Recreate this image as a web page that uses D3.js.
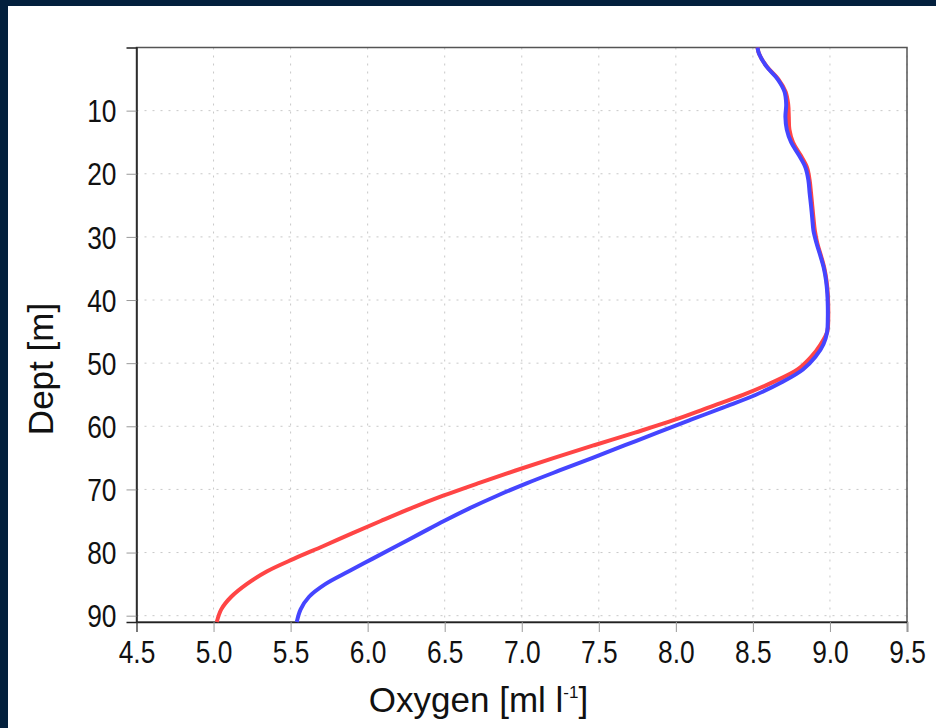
<!DOCTYPE html>
<meta charset="utf-8">
<head>
<script src="https://d3js.org/d3.v7.min.js"></script>
<style>
  body { margin: 0; background: #03203d; }
</style>
</head>
<body>
<div id="my_dataviz"></div>
<script>

// depth in metres
var depth = [0, 1, 3, 5, 7, 9, 11, 13, 15, 17, 19, 21, 23, 25, 27, 29, 31, 33, 35, 37, 39,
             41, 43, 45, 47, 49, 51, 53, 55, 57, 59, 61, 63, 65, 67, 69, 71, 73, 75, 77, 79,
             81, 83, 85, 87, 89, 91];

// oxygen profiles [ml/l]
var oxygenRed = [8.530, 8.540, 8.590, 8.665, 8.712, 8.729, 8.733, 8.737, 8.760, 8.808, 8.851,
                 8.868, 8.877, 8.885, 8.893, 8.902, 8.918, 8.942, 8.964, 8.978, 8.986,
                 8.989, 8.989, 8.983, 8.940, 8.878, 8.790, 8.630, 8.440, 8.215, 7.990,
                 7.735, 7.470, 7.210, 6.960, 6.720, 6.490, 6.280, 6.085, 5.895, 5.710,
                 5.520, 5.345, 5.215, 5.115, 5.050, 5.021];

var oxygenBlue = [8.530, 8.540, 8.588, 8.660, 8.705, 8.716, 8.711, 8.720, 8.748, 8.797, 8.841,
                  8.860, 8.868, 8.877, 8.885, 8.893, 8.913, 8.938, 8.961, 8.975, 8.983,
                  8.986, 8.986, 8.982, 8.958, 8.906, 8.825, 8.690, 8.520, 8.310, 8.094,
                  7.880, 7.670, 7.460, 7.245, 7.035, 6.840, 6.660, 6.495, 6.340, 6.185,
                  6.030, 5.875, 5.725, 5.620, 5.565, 5.540];

var xTicks = [4.5, 5.0, 5.5, 6.0, 6.5, 7.0, 7.5, 8.0, 8.5, 9.0, 9.5];
var yTicks = [10, 20, 30, 40, 50, 60, 70, 80, 90];

var W = 936, H = 728;
var margin = {top: 47.5, right: 29, bottom: 106, left: 136.5},
    width = W - margin.left - margin.right,
    height = H - margin.top - margin.bottom;

var root = d3.select("#my_dataviz")
  .append("svg")
    .attr("width", W)
    .attr("height", H)
    .style("display", "block");

// dark frame + white panel
root.append("rect").attr("width", W).attr("height", H).attr("fill", "#03203d");
root.append("rect").attr("x", 8).attr("y", 6).attr("width", W - 8).attr("height", H - 6).attr("fill", "#fff");

var svg = root.append("g")
    .attr("transform", "translate(" + margin.left + "," + margin.top + ")");

var x = d3.scaleLinear().domain([4.5, 9.5]).range([0, width]);
var y = d3.scaleLinear().domain([0, 91]).range([0, height]);

// dotted grid
svg.append("g")
  .selectAll("line")
  .data(xTicks)
  .enter().append("line")
    .attr("x1", function(d) { return x(d); })
    .attr("x2", function(d) { return x(d); })
    .attr("y1", 0)
    .attr("y2", height)
    .attr("stroke", "#c8c8c8")
    .attr("stroke-width", 1)
    .attr("stroke-dasharray", "2,6");

svg.append("g")
  .selectAll("line")
  .data(yTicks)
  .enter().append("line")
    .attr("x1", 0)
    .attr("x2", width)
    .attr("y1", function(d) { return y(d); })
    .attr("y2", function(d) { return y(d); })
    .attr("stroke", "#c8c8c8")
    .attr("stroke-width", 1)
    .attr("stroke-dasharray", "2,6");

// top / right frame
svg.append("rect")
  .attr("width", width)
  .attr("height", height)
  .attr("fill", "none")
  .attr("stroke", "#555")
  .attr("stroke-width", 1.5);

// axes
var xAxis = svg.append("g")
  .attr("transform", "translate(0," + height + ")")
  .call(d3.axisBottom(x).tickValues(xTicks).tickFormat(d3.format(".1f")).tickSize(10).tickPadding(9));

var yAxis = svg.append("g")
  .call(d3.axisLeft(y).tickValues(yTicks).tickSize(10).tickPadding(10));

// narrow look for tick labels: squeeze horizontally
var squeeze = 0.85;
[xAxis, yAxis].forEach(function(a) {
  a.select(".domain").attr("stroke", "#222").attr("stroke-width", 1.5);
  a.selectAll(".tick line").attr("stroke", "#999");
  a.selectAll(".tick text")
    .style("font-family", "'Liberation Sans', Arial, sans-serif")
    .style("font-size", "31px")
    .attr("fill", "#111");
});
xAxis.selectAll(".tick text").attr("transform", "scale(" + squeeze + ",1)");
yAxis.selectAll(".tick text")
  .attr("x", -20 / squeeze)
  .attr("dy", "0.36em")
  .attr("transform", "scale(" + squeeze + ",1)");

// profiles
var line = d3.line()
  .curve(d3.curveCatmullRom)
  .x(function(d) { return x(d[0]); })
  .y(function(d) { return y(d[1]); });

svg.append("path")
  .datum(depth.map(function(d, i) { return [oxygenRed[i], d]; }))
  .attr("fill", "none")
  .attr("stroke", "#ff4545")
  .attr("stroke-width", 4)
  .attr("d", line);

svg.append("path")
  .datum(depth.map(function(d, i) { return [oxygenBlue[i], d]; }))
  .attr("fill", "none")
  .attr("stroke", "#4545ff")
  .attr("stroke-width", 4)
  .attr("d", line);

// X label
var xl = svg.append("text")
  .attr("x", 342)
  .attr("y", height + 90)
  .attr("text-anchor", "middle")
  .style("font-family", "'Liberation Sans', Arial, sans-serif")
  .style("font-size", "35px")
  .attr("fill", "#111");
xl.append("tspan").text("Oxygen [ml l");
xl.append("tspan").attr("dy", -14).style("font-size", "17px").text("-1");
xl.append("tspan").attr("dy", 14).text("]");

// Y label
svg.append("text")
  .attr("transform", "translate(-84,321.5)rotate(-90)")
  .attr("text-anchor", "middle")
  .style("font-family", "'Liberation Sans', Arial, sans-serif")
  .style("font-size", "35px")
  .attr("fill", "#111")
  .text("Dept [m]");

</script>
</body>
</html>
